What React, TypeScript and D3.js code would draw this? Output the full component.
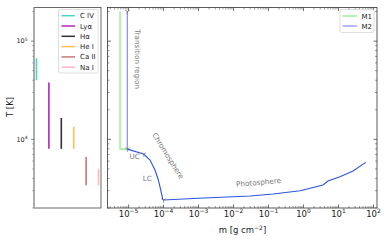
import React, { useEffect, useRef } from 'react';
import * as d3 from 'd3';

// spectral lines: formation temperature ranges
const ions = ['C IV', 'Lyα', 'Hα', 'He I', 'Ca II', 'Na I'];
const ionTmin = [40000, 8000, 8000, 8000, 3400, 3400];
const ionTmax = [67000, 38000, 16500, 13400, 6600, 5000];
const ionColors = ['#48d6cc', '#b424c0', '#333333', '#fcc050', '#cc7676', '#ffb4c4'];

// atmosphere models, column mass vs temperature
const m1Mass = [5.7e-6, 5.7e-6, 9.2e-6];
const m1Temp = [2.0e5, 7950, 7950];
const m2Mass = [9.2e-6, 9.2e-6];
const m2Temp = [2.0e5, 7950];
const lowMass = [9.2e-6, 2.7e-5, 4.1e-5, 5.7e-5, 7.1e-5, 8.3e-5, 9.5e-5, 1.0e-4, 1.0e-3, 3.0e-2, 0.135, 0.8, 3.6, 5.0, 11, 26, 60];
const lowTemp = [7950, 7080, 6150, 4880, 3860, 3050, 2450, 2410, 2510, 2650, 2780, 3000, 3430, 3760, 4170, 4770, 5830];

// region boundaries
const bndMass = [9.2e-6, 9.2e-6, 2.7e-5, 1.0e-4];
const bndTemp = [2.0e5, 7950, 7080, 2410];

const modelNames = ['M1', 'M2'];
const modelColors = ['#80ee80', '#8a8af2'];

const W = 390, H = 244;
const FONT = 'DejaVu Sans, sans-serif';

export default function App() {
  const ref = useRef<SVGSVGElement>(null);

  useEffect(() => {
    document.body.style.margin = '0';
    const svg = d3.select(ref.current);
    svg.selectAll('*').remove();

    const top = 7.5, bottom = 208;
    const y = d3.scaleLog().domain([2000, 2.2e5]).range([bottom, top]);
    const xl = d3.scaleLinear().domain([-0.2, 5.2]).range([34, 101]);
    const x = d3.scaleLog().domain([2.5e-6, 126]).range([107.5, 377]);

    const majorT = [1e4, 1e5];
    const minorT: number[] = [];
    [1e3, 1e4, 1e5].forEach(d => { for (let k = 2; k <= 9; k++) { const v = d * k; if (v >= 2000 && v <= 2.2e5) minorT.push(v); } });
    const majorM = d3.range(-5, 3).map(e => Math.pow(10, e));
    const minorM: number[] = [];
    d3.range(-6, 3).forEach(e => { for (let k = 2; k <= 9; k++) { const v = Math.pow(10, e) * k; if (v >= 2.5e-6 && v <= 126) minorM.push(v); } });

    const supLabel = (g: any, base: string, exp: string, size: number) => {
      g.append('tspan').text(base);
      g.append('tspan').attr('dy', -size * 0.42).attr('font-size', size * 0.7).text(exp);
    };

    // ---------- left panel ----------
    const left = svg.append('g');
    left.append('rect')
      .attr('x', 34).attr('y', top).attr('width', 67).attr('height', bottom - top)
      .attr('fill', 'none').attr('stroke', '#444').attr('stroke-width', 0.8);
    left.append('line')
      .attr('x1', 34).attr('x2', 34).attr('y1', top).attr('y2', bottom)
      .attr('stroke', '#aaa').attr('stroke-width', 1.6);

    left.selectAll('.ion')
      .data(ions)
      .enter()
      .append('line')
      .attr('x1', (d, i) => xl(i)).attr('x2', (d, i) => xl(i))
      .attr('y1', (d, i) => y(ionTmin[i])).attr('y2', (d, i) => y(ionTmax[i]))
      .attr('stroke', (d, i) => ionColors[i])
      .attr('stroke-width', 1.6);

    // outward ticks on left spine
    left.selectAll('.lmaj').data(majorT).enter().append('line')
      .attr('x1', 31).attr('x2', 34).attr('y1', d => y(d)).attr('y2', d => y(d))
      .attr('stroke', '#555').attr('stroke-width', 0.7);
    left.selectAll('.lmin').data(minorT).enter().append('line')
      .attr('x1', 32.3).attr('x2', 34).attr('y1', d => y(d)).attr('y2', d => y(d))
      .attr('stroke', '#555').attr('stroke-width', 0.5);
    majorT.forEach(v => {
      const t = left.append('text')
        .attr('x', 22).attr('y', y(v) + 2.3)
        .attr('text-anchor', 'middle')
        .attr('font-family', FONT).attr('font-size', 6.5).attr('fill', '#222');
      supLabel(t, '10', String(Math.round(Math.log10(v))), 6.5);
    });
    left.append('text')
      .attr('transform', 'translate(13,107) rotate(-90)')
      .attr('text-anchor', 'middle')
      .attr('font-family', FONT).attr('font-size', 8.5).attr('fill', '#222')
      .text('T [K]');

    // legend
    const lg = left.append('g');
    lg.append('rect')
      .attr('x', 58.5).attr('y', 9.5).attr('width', 39.5).attr('height', 63.5).attr('rx', 1.5)
      .attr('fill', 'white').attr('stroke', '#d0d0d0').attr('stroke-width', 0.7);
    ions.forEach((name, i) => {
      const yy = 15.7 + i * 10.3;
      lg.append('line').attr('x1', 61.5).attr('x2', 75).attr('y1', yy).attr('y2', yy)
        .attr('stroke', ionColors[i]).attr('stroke-width', 1.5);
      lg.append('text').attr('x', 80).attr('y', yy + 2.5)
        .attr('font-family', FONT).attr('font-size', 7).attr('fill', '#222').text(name);
    });

    // ---------- right panel ----------
    const right = svg.append('g');
    const line = d3.line<[number, number]>().x(d => x(d[0])).y(d => y(d[1]));
    const zip = (a: number[], b: number[]) => a.map((v, i) => [v, b[i]] as [number, number]);

    right.append('path').attr('d', line(zip(m1Mass, m1Temp)))
      .attr('fill', 'none').attr('stroke', modelColors[0]).attr('stroke-width', 1.2);
    right.append('path').attr('d', line(zip(m2Mass, m2Temp)))
      .attr('fill', 'none').attr('stroke', modelColors[1]).attr('stroke-width', 1.2);
    right.append('path').attr('d', line(zip(lowMass, lowTemp)))
      .attr('fill', 'none').attr('stroke', '#2b55dc').attr('stroke-width', 1.1);

    // boundary markers (tri-down)
    bndMass.forEach((m, i) => {
      const cx = x(m), cy = y(bndTemp[i]), s = 2.6;
      const p = `M${cx},${cy}L${cx},${cy + s}M${cx},${cy}L${cx - s * 0.87},${cy - s * 0.5}M${cx},${cy}L${cx + s * 0.87},${cy - s * 0.5}`;
      right.append('path').attr('d', p).attr('stroke', '#777').attr('stroke-width', 0.8).attr('fill', 'none');
    });

    // region annotations
    const note = (txt: string, m: number, t: number, rot: number) => {
      right.append('text')
        .attr('transform', `translate(${x(m)},${y(t)}) rotate(${rot})`)
        .attr('text-anchor', 'middle').attr('dominant-baseline', 'middle')
        .attr('font-family', FONT).attr('font-size', 7.2).attr('fill', '#777')
        .text(txt);
    };
    note('Transition region', 1.75e-5, 65600, 90);
    note('Chromosphere', 1.3e-4, 6760, 58);
    note('UC', 1.48e-5, 6530, 0);
    note('LC', 3.4e-5, 3990, 0);
    note('Photosphere', 0.052, 3600, -5);

    // ticks inward, all four sides
    const ticks = right.append('g').attr('stroke', '#333');
    majorM.forEach(v => {
      ticks.append('line').attr('x1', x(v)).attr('x2', x(v)).attr('y1', bottom).attr('y2', bottom - 3.5).attr('stroke-width', 0.7);
      ticks.append('line').attr('x1', x(v)).attr('x2', x(v)).attr('y1', top).attr('y2', top + 3.5).attr('stroke-width', 0.7);
    });
    minorM.forEach(v => {
      ticks.append('line').attr('x1', x(v)).attr('x2', x(v)).attr('y1', bottom).attr('y2', bottom - 2).attr('stroke-width', 0.5);
      ticks.append('line').attr('x1', x(v)).attr('x2', x(v)).attr('y1', top).attr('y2', top + 2).attr('stroke-width', 0.5);
    });
    majorT.forEach(v => {
      ticks.append('line').attr('x1', 107.5).attr('x2', 111).attr('y1', y(v)).attr('y2', y(v)).attr('stroke-width', 0.7);
      ticks.append('line').attr('x1', 377).attr('x2', 373.5).attr('y1', y(v)).attr('y2', y(v)).attr('stroke-width', 0.7);
    });
    minorT.forEach(v => {
      ticks.append('line').attr('x1', 107.5).attr('x2', 109.5).attr('y1', y(v)).attr('y2', y(v)).attr('stroke-width', 0.5);
      ticks.append('line').attr('x1', 377).attr('x2', 375).attr('y1', y(v)).attr('y2', y(v)).attr('stroke-width', 0.5);
    });
    majorM.forEach(v => {
      const e = Math.round(Math.log10(v));
      const t = right.append('text')
        .attr('x', x(v)).attr('y', 217)
        .attr('text-anchor', 'middle')
        .attr('font-family', FONT).attr('font-size', 8.5).attr('fill', '#222');
      supLabel(t, '10', e < 0 ? '\u2212' + Math.abs(e) : String(e), 8.5);
    });
    const xlab = right.append('text')
      .attr('x', 242.5).attr('y', 233)
      .attr('text-anchor', 'middle')
      .attr('font-family', FONT).attr('font-size', 8.5).attr('fill', '#222');
    xlab.append('tspan').text('m [g cm');
    xlab.append('tspan').attr('dy', -3.5).attr('font-size', 6).text('\u22122');
    xlab.append('tspan').attr('dy', 3.5).text(']');

    right.append('rect')
      .attr('x', 107.5).attr('y', top).attr('width', 377 - 107.5).attr('height', bottom - top)
      .attr('fill', 'none').attr('stroke', '#333').attr('stroke-width', 0.8);

    // legend
    const rg = right.append('g');
    rg.append('rect')
      .attr('x', 340).attr('y', 9.5).attr('width', 34).attr('height', 23).attr('rx', 1.5)
      .attr('fill', 'white').attr('stroke', '#d0d0d0').attr('stroke-width', 0.7);
    modelNames.forEach((name, i) => {
      const yy = 16 + i * 10;
      rg.append('line').attr('x1', 342.5).attr('x2', 357).attr('y1', yy).attr('y2', yy)
        .attr('stroke', modelColors[i]).attr('stroke-width', 1.2);
      rg.append('text').attr('x', 361.5).attr('y', yy + 2.5)
        .attr('font-family', FONT).attr('font-size', 7).attr('fill', '#222').text(name);
    });
  }, []);

  return <svg ref={ref} width={W} height={H} style={{ display: 'block', background: 'white' }} />;
}
